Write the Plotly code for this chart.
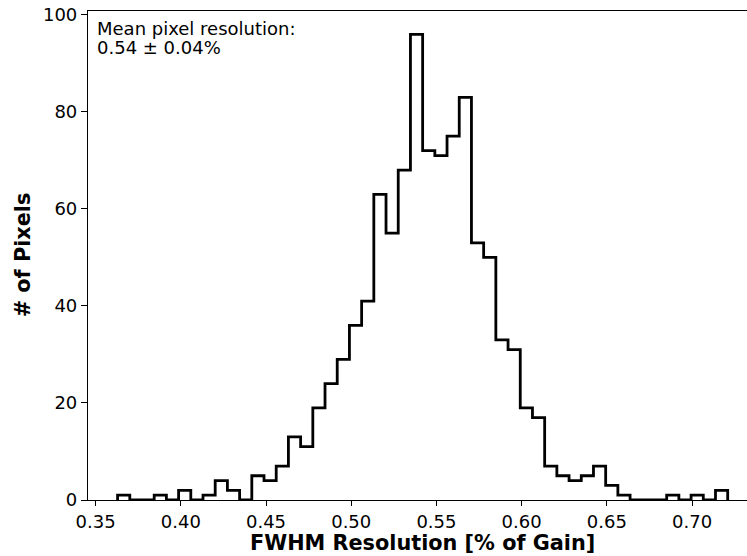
import plotly.graph_objects as go

# Histogram data (50 bins)
bin_start = 0.3629
bin_width = 0.00716
counts = [1, 0, 0, 1, 0, 2, 0, 1, 4, 2,
          0, 5, 4, 7, 13, 11, 19, 24, 29, 36,
          41, 63, 55, 68, 96, 72, 71, 75, 83, 53,
          50, 33, 31, 19, 17, 7, 5, 4, 5, 7,
          3, 1, 0, 0, 0, 1, 0, 1, 0, 2]
x_ticks = [0.35, 0.40, 0.45, 0.50, 0.55, 0.60, 0.65, 0.70]
x_tick_labels = ["0.35", "0.40", "0.45", "0.50", "0.55", "0.60", "0.65", "0.70"]
y_ticks = [0, 20, 40, 60, 80, 100]
y_tick_labels = ["0", "20", "40", "60", "80", "100"]
annot_lines = ["Mean pixel resolution:", "0.54 ± 0.04%"]

n = len(counts)
edges = [bin_start + i * bin_width for i in range(n + 1)]
xs = [edges[0]] + edges
ys = [0] + counts + [0]

fig = go.Figure()
fig.add_trace(go.Scatter(
    x=xs, y=ys, mode="lines", line=dict(color="black", width=2.8, shape="hv"),
    hoverinfo="skip", showlegend=False))

W, H = 747, 556
ml, mr, mt, mb = 87.7, 0, 11, 56
font = "DejaVu Sans, Arial, sans-serif"

fig.update_layout(
    width=W, height=H,
    margin=dict(l=ml, r=mr, t=mt, b=mb, pad=0),
    paper_bgcolor="white", plot_bgcolor="white",
    font=dict(family=font, size=18, color="black"),
    xaxis=dict(range=[0.34554, 0.73223], tickvals=x_ticks, ticktext=x_tick_labels,
               showgrid=False, zeroline=False, showline=True, linecolor="black",
               linewidth=1.2, mirror=True, ticks="outside", ticklen=5, tickwidth=1.2,
               tickcolor="black", tickfont=dict(size=18)),
    yaxis=dict(range=[0, 100.8], tickvals=y_ticks, ticktext=y_tick_labels,
               showgrid=False, zeroline=False, showline=True, linecolor="black",
               linewidth=1.2, mirror=False, ticks="outside", ticklen=6, tickwidth=1.2,
               tickcolor="black", tickfont=dict(size=18)),
)

pw = W - ml - mr
ph = H - mt - mb

def px_to_paper_x(px):
    return (px - ml) / pw

def px_to_paper_y(py):
    return 1 - (py - mt) / ph

fig.add_annotation(text=annot_lines[0], xref="paper", yref="paper",
                   x=px_to_paper_x(95), y=px_to_paper_y(28.5), xanchor="left", yanchor="middle",
                   showarrow=False, font=dict(size=18))
fig.add_annotation(text=annot_lines[1], xref="paper", yref="paper",
                   x=px_to_paper_x(95), y=px_to_paper_y(47.5), xanchor="left", yanchor="middle",
                   showarrow=False, font=dict(size=18))
# axis titles
fig.add_annotation(text="<b>FWHM Resolution [% of Gain]</b>", xref="paper", yref="paper",
                   x=px_to_paper_x(422), y=px_to_paper_y(543), xanchor="center", yanchor="middle",
                   showarrow=False, font=dict(size=20.8))
fig.add_annotation(text="<b># of Pixels</b>", xref="paper", yref="paper",
                   x=px_to_paper_x(23), y=px_to_paper_y(255), xanchor="center", yanchor="middle",
                   textangle=-90, showarrow=False, font=dict(size=20.8))

fig.write_html("out.html")
